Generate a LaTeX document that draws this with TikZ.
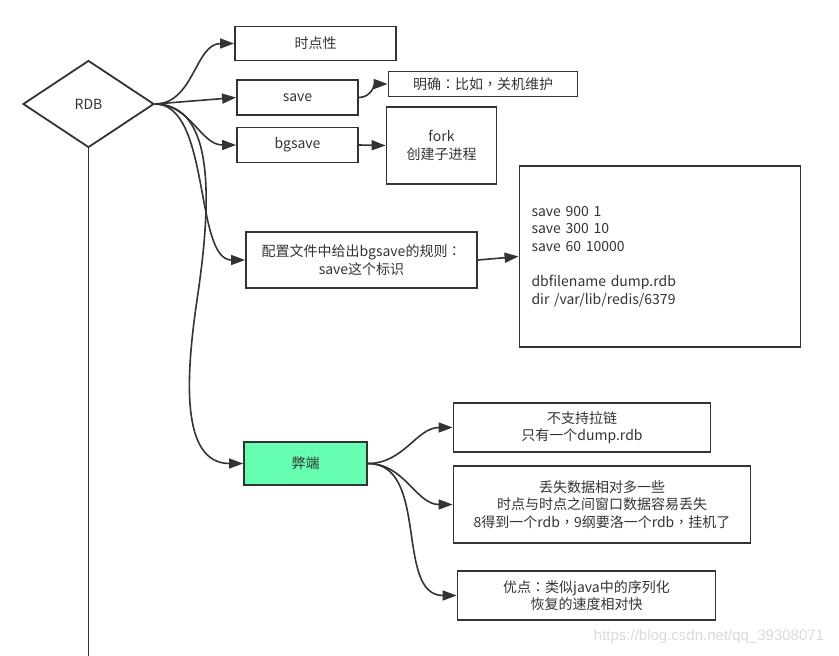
\documentclass[tikz,border=0pt]{standalone}
\usepackage{fontspec}
\setmainfont{Noto Sans CJK SC}
\newfontfamily\punctfont{Noto Sans CJK TC}
\newfontfamily\markfont{Liberation Sans}
\newcommand{\cpunct}[1]{{\punctfont #1}}
\usepackage{tikz}
\usetikzlibrary{positioning,arrows.meta,shapes.geometric}
\definecolor{LineGray}{HTML}{333333}
\definecolor{MintGreen}{HTML}{66FFB2}
\definecolor{MarkGray}{HTML}{DADADA}

\begin{document}
\begin{tikzpicture}[x=1pt, y=-1pt,
        font=\fontsize{14}{17.5}\selectfont,
        block/.style={rectangle, draw=LineGray, line width=1.8pt, align=center, text=LineGray, inner sep=3pt},
        decision/.style={diamond, draw=LineGray, line width=1.8pt, inner sep=0pt, text=LineGray},
        arrow/.style={-{Triangle[length=14pt,width=10pt]}, draw=LineGray, line width=1.6pt},
        link/.style={draw=LineGray, line width=1.8pt}]

    \useasboundingbox (0,0) rectangle (839,656);

    \node[decision, minimum width=131pt, minimum height=87pt] (rdb) at (88.5,104) {RDB};
    \coordinate (rdbend) at (88.5,656);

    \node[block, minimum width=161pt, minimum height=34pt] (shidian) at (315.5,43.5) {时点性};
    \node[block, minimum width=121pt, minimum height=35pt] (save) at (297.5,97.5) {save};
    \node[block, minimum width=121pt, minimum height=35pt] (bgsave) at (297.5,145) {bgsave};
    \node[block, minimum width=189pt, minimum height=25pt] (mingque) at (483,84) {明确\cpunct{：}比如\cpunct{，}关机维护};
    \node[block, minimum width=110pt, minimum height=77pt] (fork) at (441.5,145.5) {fork\\创建子进程};
    \node[block, minimum width=231pt, minimum height=56pt] (peizhi) at (361.5,260) {配置文件中给出bgsave的规则\cpunct{：}\\save这个标识};
    \node[block, align=left, text width=257pt, inner xsep=12pt, minimum height=181pt] (dump) at (660,256.5)
        {save 900 1\\save 300 10\\save 60 10000\\[18pt]dbfilename dump.rdb\\dir /var/lib/redis/6379};

    \node[block, fill=MintGreen, minimum width=123pt, minimum height=43pt] (bidun) at (305.5,463.5) {弊端};
    \node[block, minimum width=257pt, minimum height=49pt] (lalian) at (582,427.5) {不支持拉链\\只有一个dump.rdb};
    \node[block, minimum width=297pt, minimum height=77pt] (diushi) at (602,504.5) {丢失数据相对多一些\\时点与时点之间窗口数据容易丢失\\8得到一个rdb\cpunct{，}9纲要洛一个rdb\cpunct{，}挂机了};
    \node[block, minimum width=258pt, minimum height=49pt] (youdian) at (586.5,595.5) {优点\cpunct{：}类似java中的序列化\\恢复的速度相对快};

    \node[text=MarkGray, font=\markfont\fontsize{15}{18}\selectfont] (watermark) at (709,637) {https://blog.csdn.net/qq\_39308071};

    \draw[link] (rdb.south) -- (rdbend);
    \draw[arrow] (rdb.east) to[out=0, in=180] (shidian.west);
    \draw[arrow] (rdb.east) -- (save.west);
    \draw[arrow] (rdb.east) to[out=0, in=180] (bgsave.west);
    \draw[arrow] (rdb.east) .. controls +(56,0) and +(-51,0) .. (peizhi.west);
    \draw[arrow] (rdb.east) .. controls (215,104) and (212,200) .. (197,300) .. controls (186,375) and (180,463.5) .. (bidun.west);

    \draw[arrow] (save.east) to[out=0, in=180] (mingque.west);
    \draw[arrow] (bgsave.east) -- (fork.west);
    \draw[arrow] (peizhi.east) -- (dump.west);

    \draw[arrow] (bidun.east) to[out=0, in=180] (lalian.west);
    \draw[arrow] (bidun.east) to[out=0, in=180] (diushi.west);
    \draw[arrow] (bidun.east) to[out=0, in=180] (youdian.west);
\end{tikzpicture}
\end{document}
